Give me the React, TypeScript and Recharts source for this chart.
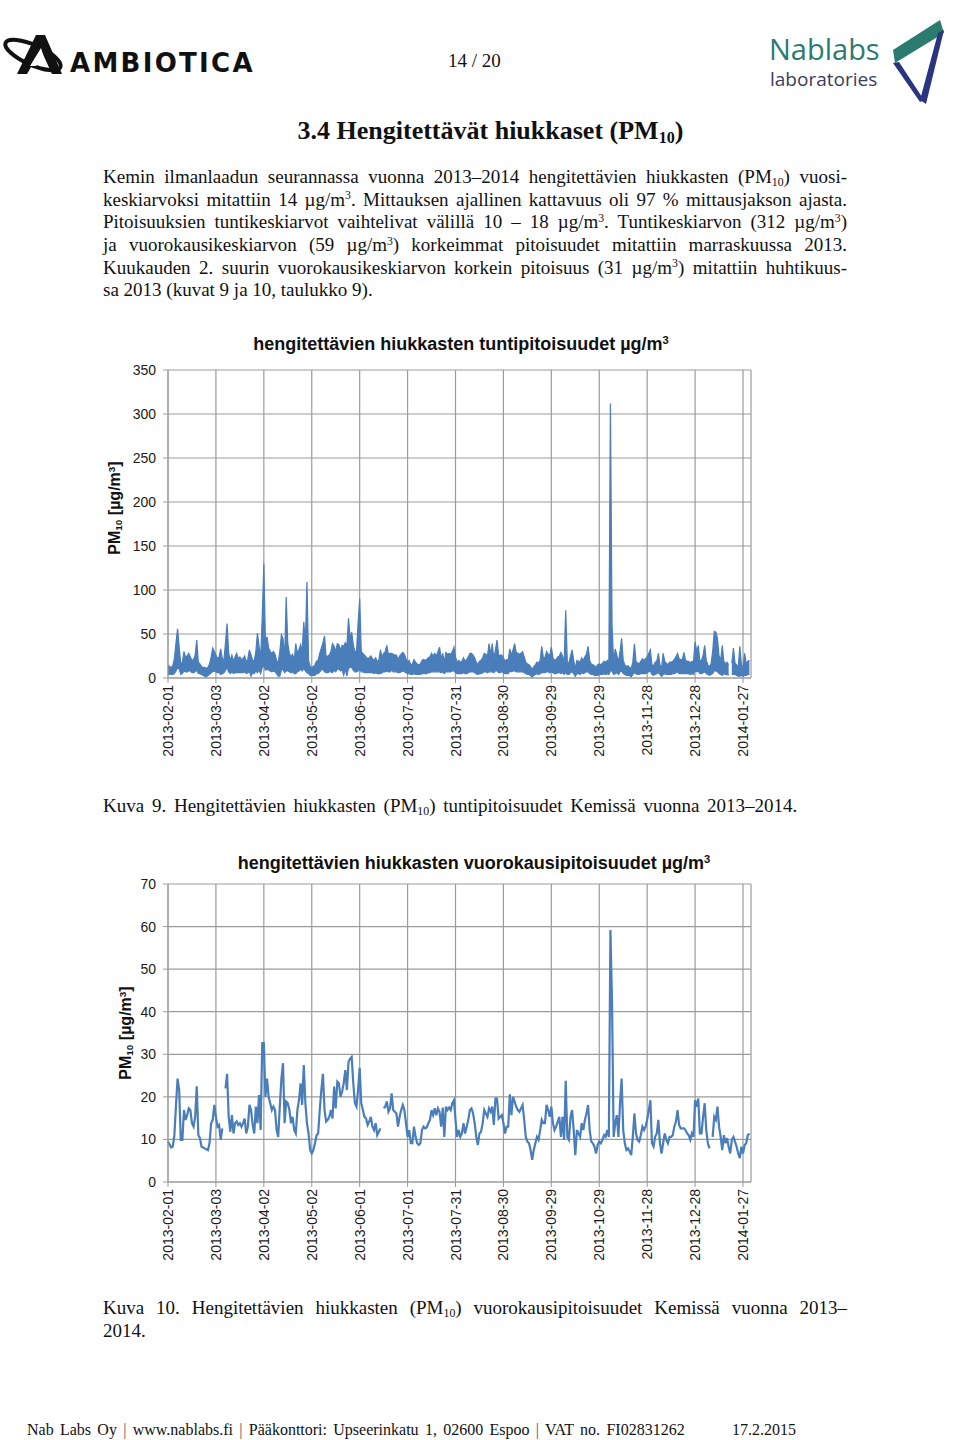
import React from 'react';
import { ComposedChart, LineChart, Area, Line, XAxis, YAxis, CartesianGrid } from 'recharts';

// x axis: day index from 2013-02-01, one tick every 30 days
const tickDays = [0, 30, 60, 90, 120, 150, 180, 210, 240, 270, 300, 330, 360];
const tickLabels = [
    '2013-02-01', '2013-03-03', '2013-04-02', '2013-05-02', '2013-06-01', '2013-07-01', '2013-07-31',
    '2013-08-30', '2013-09-29', '2013-10-29', '2013-11-28', '2013-12-28', '2014-01-27',
];

// daily means (µg/m3), null = missing day
const dailyPM10 = [
    9.5, 8.8, 8.1, 8.3, 11, 18, 24.3, 21.6, 9.9, 9.9,
    16.9, 14.6, 15.7, 17.3, 16.9, 13.8, 13.0, 15.3, 22.5, 11.0,
    10.3, 8.3, 8.1, 7.9, 7.7, 7.5, 9.1, 13.8, 14.6, 18.1,
    15.3, 13.0, 13.4, 9.9, 12.6, null, 22.0, 25.4, 15.3, 11.8,
    15.7, 11.4, 13.8, 14.2, 13.4, 13.8, 13.0, 13.8, 14.9, 11.4,
    13.0, 18.1, 16.9, 13.4, 11.4, 17.7, 13.8, 20.4, 12.2, 32.6,
    32.6, 20.0, 24.3, 20.0, 18.5, 16.9, 17.7, 16.9, 12.2, 10.6,
    17.7, 24.3, 27.9, 13.8, 18.9, 18.5, 16.9, 13.8, 15.3, 12.2,
    11.4, 16.9, 19.2, 23.2, 18.1, 27.5, 18.5, 13.8, 11.4, 7.5,
    6.7, 7.5, 9.1, 11.0, 11.4, 16.9, 21.6, 25.4, 16.9, 14.2,
    14.6, 15.3, 16.9, 14.9, 22.4, 17.3, 23.6, 23.2, 20.0, 21.2,
    23.2, 26.3, 21.6, 28.2, 29.0, 29.4, 23.2, 18.5, 17.7, 21.6,
    26.8, 18.5, 16.9, 15.3, 14.9, 13.4, 14.2, 15.3, 13.0, 12.2,
    13.8, 11.0, 11.8, 12.6, null, 17.3, 17.7, 18.9, 16.5, 17.3,
    20.8, 16.9, 16.5, 16.1, 13.0, 15.3, 16.9, 18.1, 16.9, 13.8,
    10.6, 12.2, 9.1, 9.1, 13.0, 10.6, 9.1, 8.7, 9.1, 12.2,
    13.0, 12.6, 12.8, 13.8, 14.6, 16.9, 15.7, 17.3, 15.7, 17.3,
    16.5, 13.0, 17.5, 10.6, 17.7, 16.9, 17.5, 16.9, 18.5, 19.2,
    14.6, 10.6, 12.2, 10.6, 11.4, 13.8, 11.4, 13.0, 14.6, 16.9,
    17.3, 16.1, 13.8, 10.6, 8.7, 11.4, 11.8, 13.8, 16.9, 16.1,
    15.3, 17.3, 16.5, 17.7, 13.4, 19.6, 19.6, 14.9, 15.3, 15.7,
    13.8, 11.4, 13.0, 13.0, 20.6, 15.7, 20.0, 18.9, 17.7, 16.9,
    16.5, 17.3, 18.1, 14.6, 10.6, 9.5, 9.1, 7.5, 5.2, 7.5,
    9.1, 10.6, 9.9, 12.2, 14.6, 13.8, 13.8, 18.1, 16.9, 15.3,
    17.7, 13.8, 12.2, 13.0, 14.2, 15.3, 10.6, 15.3, 9.9, 23.8,
    10.6, 9.9, 15.3, 16.9, 12.2, 6.3, 12.2, 11.4, 10.6, 13.8,
    12.2, 14.6, 16.1, 18.1, 12.2, 9.5, 9.1, 8.3, 6.7, 8.7,
    9.5, 9.1, 9.9, 11.0, 10.6, 12.2, 10.6, 59.2, 41.9, 10.6,
    13.8, 15.7, 10.6, 18.5, 24.3, 12.2, 9.1, 7.5, 7.9, 7.2,
    6.3, 10.6, 16.1, 11.4, 9.9, 9.5, 11.0, 13.0, 12.2, 13.0,
    14.6, 16.9, 19.2, 9.1, 8.3, 10.6, 11.4, 14.6, 9.1, 6.7,
    9.1, 11.4, 9.9, 9.1, 10.6, 10.6, 11.0, 13.0, 14.2, 16.9,
    13.4, 12.6, 12.6, 12.6, 12.2, 11.4, 11.0, 9.9, 11.4, 10.6,
    19.2, 17.7, 19.6, 11.4, 11.4, 15.3, 18.5, 12.2, 9.1, 7.9,
    null, 10.6, 15.3, 14.6, 17.7, 13.0, 10.6, 7.5, 11.0, 9.1,
    10.3, 8.3, 6.7, 9.9, 10.6, 9.5, 8.3, 6.7, 5.6, 8.3,
    6.7, 8.7, 9.1, 11.0, 11.4,
];

// highest hourly value of each day
const hourlyMax = [
    15, 13, 12, 14, 22, 40, 56, 35, 16, 18,
    30, 24, 25, 28, 24, 20, 21, 26, 43, 18,
    16, 13, 12, 12, 11, 12, 16, 24, 34, 30,
    26, 22, 24, 33, 22, 20, 40, 62, 28, 20,
    26, 19, 24, 28, 22, 24, 21, 22, 25, 18,
    22, 32, 26, 20, 19, 30, 51, 36, 22, 70,
    130, 40, 47, 34, 30, 28, 30, 27, 20, 17,
    30, 49, 45, 22, 92, 39, 28, 24, 27, 20,
    39, 28, 32, 38, 30, 64, 40, 109, 20, 13,
    12, 13, 15, 19, 20, 28, 34, 40, 48, 24,
    25, 26, 30, 39, 36, 30, 39, 38, 32, 37,
    36, 40, 36, 68, 46, 52, 38, 30, 30, 62,
    90, 30, 28, 26, 24, 22, 23, 25, 22, 20,
    23, 19, 20, 32, 24, 28, 30, 37, 27, 28,
    28, 27, 26, 26, 21, 25, 27, 29, 27, 22,
    18, 20, 15, 16, 21, 18, 16, 15, 16, 20,
    21, 20, 21, 23, 24, 28, 25, 28, 25, 30,
    35, 22, 28, 18, 29, 27, 28, 27, 30, 35,
    24, 18, 20, 18, 19, 23, 19, 21, 24, 28,
    28, 26, 23, 18, 15, 19, 20, 23, 28, 27,
    25, 39, 27, 39, 22, 32, 43, 25, 26, 26,
    23, 19, 21, 21, 33, 26, 32, 39, 29, 28,
    27, 28, 30, 24, 18, 16, 15, 13, 9, 13,
    15, 18, 17, 20, 36, 23, 23, 30, 27, 25,
    35, 23, 20, 21, 24, 25, 29, 25, 17, 77,
    18, 17, 25, 32, 20, 11, 20, 19, 18, 23,
    20, 24, 27, 36, 20, 16, 15, 14, 12, 15,
    16, 15, 17, 19, 18, 20, 18, 312, 60, 18,
    33, 26, 18, 30, 45, 20, 15, 13, 14, 12,
    11, 18, 39, 19, 17, 16, 19, 22, 20, 22,
    24, 28, 32, 15, 14, 18, 19, 28, 15, 11,
    28, 19, 17, 15, 18, 18, 19, 21, 24, 28,
    22, 21, 21, 29, 20, 19, 19, 17, 19, 18,
    41, 30, 37, 19, 20, 26, 37, 20, 15, 13,
    16, 30, 53, 52, 45, 25, 20, 37, 19, 16,
    18, 15, null, 17, 34, 17, 15, 12, 36, 15,
    12, 28, 16, 19, 20,
];

// lowest hourly value of each day
const hourlyMin = [
    5, 4, 4, 4, 5, 8, 12, 10, 4, 5,
    8, 7, 7, 8, 8, 6, 6, 7, 9, 5,
    5, 4, 3, 2, 1, 3, 4, 6, 7, 8,
    7, 6, 6, 4, 5, 6, 9, 12, 7, 5,
    7, 5, 6, 6, 6, 6, 6, 6, 7, 5,
    6, 7, 2, 6, 5, 8, 6, 9, 5, 12,
    14, 9, 10, 9, 8, 7, 8, 7, 5, 2,
    2, 9, 10, 6, 8, 8, 7, 6, 7, 5,
    5, 7, 8, 10, 8, 11, 8, 6, 5, 3,
    3, 3, 3, 5, 5, 7, 9, 10, 7, 6,
    6, 7, 7, 6, 9, 7, 10, 10, 8, 9,
    3, 10, 2, 11, 12, 12, 9, 7, 7, 8,
    10, 7, 7, 6, 6, 6, 6, 6, 6, 5,
    6, 5, 5, 5, 6, 7, 7, 8, 7, 7,
    9, 7, 7, 7, 6, 6, 7, 8, 7, 6,
    5, 5, 4, 4, 5, 4, 4, 4, 4, 5,
    5, 5, 5, 6, 6, 7, 7, 7, 7, 7,
    7, 6, 7, 5, 7, 7, 7, 7, 8, 8,
    6, 5, 5, 5, 5, 6, 5, 5, 6, 7,
    7, 7, 6, 5, 4, 5, 5, 6, 7, 7,
    6, 7, 7, 7, 6, 8, 8, 6, 6, 7,
    6, 5, 5, 5, 8, 7, 8, 8, 7, 7,
    7, 7, 7, 6, 5, 4, 4, 3, 1, 3,
    4, 5, 4, 5, 6, 6, 6, 7, 7, 6,
    7, 6, 5, 5, 6, 6, 5, 6, 4, 6,
    4, 4, 6, 7, 5, 2, 5, 5, 4, 6,
    5, 6, 7, 7, 5, 4, 4, 3, 3, 3,
    4, 4, 4, 5, 4, 5, 4, 8, 8, 4,
    5, 6, 4, 7, 8, 5, 4, 3, 3, 3,
    1, 4, 6, 5, 4, 4, 5, 5, 5, 5,
    6, 7, 8, 4, 3, 4, 5, 6, 4, 2,
    4, 5, 4, 4, 4, 4, 5, 5, 6, 7,
    5, 5, 5, 5, 5, 5, 5, 4, 5, 4,
    8, 7, 8, 5, 5, 6, 7, 5, 4, 3,
    4, 5, 8, 8, 7, 5, 4, 3, 5, 4,
    4, 3, null, 4, 4, 4, 3, 2, 2, 3,
    2, 3, 3, 4, 4,
];

const hourlyTicks = [0, 50, 100, 150, 200, 250, 300, 350];
const dailyTicks = [0, 10, 20, 30, 40, 50, 60, 70];

const hourlyRows = hourlyMax.map((hi, d) => ({
    d,
    band: hi == null || hourlyMin[d] == null ? null : [hourlyMin[d], hi],
}));
const dailyRows = dailyPM10.map((v, d) => ({ d, v }));

const BLUE = '#4a7ebb';
const GRID = '#9b9b9b';
const SANS = '"Liberation Sans", Arial, sans-serif';
const SERIF = '"Liberation Serif", "Times New Roman", serif';

const Sup = ({ children }: { children: React.ReactNode }) => (
    <span style={{ fontSize: '0.62em', position: 'relative', top: '-0.55em', lineHeight: 0 }}>{children}</span>
);
const Sub = ({ children }: { children: React.ReactNode }) => (
    <span style={{ fontSize: '0.62em', position: 'relative', top: '0.25em', lineHeight: 0 }}>{children}</span>
);
const JLine = ({ children, last }: { children: React.ReactNode; last?: boolean }) => (
    <div style={{ textAlign: 'justify', textAlignLast: last ? 'left' : 'justify', height: 22.7 }}>{children}</div>
);

const DateTick = (props: any) => {
    const { x, y, payload } = props;
    const i = tickDays.indexOf(payload.value);
    return (
        <text
            x={x}
            y={y}
            dy={5}
            transform={`rotate(-90 ${x} ${y})`}
            textAnchor="end"
            fontSize={14}
            fontFamily={SANS}
            fill="#1a1a1a"
        >
            {tickLabels[i]}
        </text>
    );
};

const xAxisProps = {
    type: 'number' as const,
    dataKey: 'd',
    domain: [0, 365],
    ticks: tickDays,
    interval: 0 as const,
    height: 87,
    tickSize: 5,
    tick: <DateTick />,
    axisLine: { stroke: GRID },
    tickLine: { stroke: GRID },
};

const yTick = { fontSize: 14, fontFamily: SANS, fill: '#1a1a1a' };

const abs = (left: number, top: number, extra: React.CSSProperties = {}): React.CSSProperties => ({
    position: 'absolute',
    left,
    top,
    ...extra,
});

const AxisTitle = ({ x, y }: { x: number; y: number }) => (
    <div
        style={abs(x, y, {
            transform: 'translate(-50%, -50%) rotate(-90deg)',
            whiteSpace: 'nowrap',
            fontFamily: SANS,
            fontWeight: 'bold',
            fontSize: 16,
            color: '#111',
        })}
    >
        PM<Sub>10</Sub> [µg/m<Sup>3</Sup>]
    </div>
);

const ChartTitle = ({ x, y, children }: { x: number; y: number; children: React.ReactNode }) => (
    <div
        style={abs(x, y, {
            transform: 'translate(-50%, -50%)',
            whiteSpace: 'nowrap',
            fontFamily: SANS,
            fontWeight: 'bold',
            fontSize: 18,
            color: '#111',
        })}
    >
        {children}
    </div>
);

const HourlyChart = () => (
    <div style={abs(100, 330)}>
        <ComposedChart width={680} height={440} data={hourlyRows} margin={{ top: 40, right: 29, bottom: 5, left: 0 }}>
            <CartesianGrid stroke={GRID} strokeWidth={1.2} />
            <XAxis {...xAxisProps} />
            <YAxis
                domain={[0, 350]}
                ticks={hourlyTicks}
                width={68}
                tickSize={5}
                tickMargin={7}
                tick={yTick}
                axisLine={{ stroke: GRID }}
                tickLine={{ stroke: GRID }}
            />
            <Area
                dataKey="band"
                type="linear"
                stroke={BLUE}
                strokeWidth={1.2}
                fill={BLUE}
                fillOpacity={1}
                connectNulls={false}
                isAnimationActive={false}
            />
        </ComposedChart>
    </div>
);

const DailyChart = () => (
    <div style={abs(100, 850)}>
        <LineChart width={680} height={420} data={dailyRows} margin={{ top: 34, right: 29, bottom: 1, left: 0 }}>
            <CartesianGrid stroke={GRID} strokeWidth={1.2} />
            <XAxis {...xAxisProps} />
            <YAxis
                domain={[0, 70]}
                ticks={dailyTicks}
                width={68}
                tickSize={5}
                tickMargin={7}
                tick={yTick}
                axisLine={{ stroke: GRID }}
                tickLine={{ stroke: GRID }}
            />
            <Line
                dataKey="v"
                type="linear"
                stroke={BLUE}
                strokeWidth={2.2}
                dot={false}
                connectNulls={false}
                isAnimationActive={false}
            />
        </LineChart>
    </div>
);

const AmbioticaLogo = () => (
    <div style={abs(0, 30)}>
        <svg width={270} height={52}>
            <ellipse cx={33} cy={25} rx={30} ry={10} transform="rotate(24 33 25)" fill="none" stroke="#111" strokeWidth={4} />
            <polygon points="17,44 36,5 45,5 62,44 52,44 41,20 27,44" fill="#111" />
            <polygon points="30,36 41,18 44,28 36,36" fill="#fff" />
            <text x={70} y={42} fontFamily='"DejaVu Sans", sans-serif' fontWeight="bold" fontSize={26} letterSpacing={2.3} fill="#111">
                AMBIOTICA
            </text>
        </svg>
    </div>
);

const NablabsLogo = () => (
    <div style={abs(760, 10)}>
        <svg width={200} height={100}>
            <text x={9} y={50} fontFamily='"Open Sans", sans-serif' fontSize={29} fill="#2b7b6e">
                Nablabs
            </text>
            <text x={10} y={76} fontFamily='"Open Sans", sans-serif' fontSize={19} fill="#3a3d5c">
                laboratories
            </text>
            <polygon points="133,40 180,10 184,23 135,53" fill="#2b7b6e" />
            <polygon points="178,23 184,20 166,94 160,90" fill="#2a3480" />
            <polygon points="133,53 139,52 164,90 160,92" fill="#2a3480" />
        </svg>
    </div>
);

export default function App() {
    return (
        <div style={{ position: 'absolute', left: 0, top: 0, width: 960, height: 1440, background: '#fff', fontFamily: SERIF, color: '#111' }}>
            <AmbioticaLogo />
            <div style={abs(448, 50, { fontSize: 19 })}>14 / 20</div>
            <NablabsLogo />

            <div style={abs(0, 115, { width: 981, textAlign: 'center', fontSize: 26, fontWeight: 'bold', lineHeight: '32px' })}>
                3.4 Hengitettävät hiukkaset (PM<Sub>10</Sub>)
            </div>

            <div style={abs(103, 166, { width: 744, fontSize: 19, lineHeight: '22.7px' })}>
                <JLine>Kemin ilmanlaadun seurannassa vuonna 2013–2014 hengitettävien hiukkasten (PM<Sub>10</Sub>) vuosi-</JLine>
                <JLine>keskiarvoksi mitattiin 14 µg/m<Sup>3</Sup>. Mittauksen ajallinen kattavuus oli 97 % mittausjakson ajasta.</JLine>
                <JLine>Pitoisuuksien tuntikeskiarvot vaihtelivat välillä 10 – 18 µg/m<Sup>3</Sup>. Tuntikeskiarvon (312 µg/m<Sup>3</Sup>)</JLine>
                <JLine>ja vuorokausikeskiarvon (59 µg/m<Sup>3</Sup>) korkeimmat pitoisuudet mitattiin marraskuussa 2013.</JLine>
                <JLine>Kuukauden 2. suurin vuorokausikeskiarvon korkein pitoisuus (31 µg/m<Sup>3</Sup>) mitattiin huhtikuus-</JLine>
                <JLine last>sa 2013 (kuvat 9 ja 10, taulukko 9).</JLine>
            </div>

            <ChartTitle x={461} y={344}>
                hengitettävien hiukkasten tuntipitoisuudet µg/m<Sup>3</Sup>
            </ChartTitle>
            <AxisTitle x={115} y={508} />
            <HourlyChart />

            <div style={abs(103, 795, { fontSize: 19, lineHeight: '22.7px', wordSpacing: 3, whiteSpace: 'nowrap' })}>
                Kuva 9. Hengitettävien hiukkasten (PM<Sub>10</Sub>) tuntipitoisuudet Kemissä vuonna 2013–2014.
            </div>

            <ChartTitle x={474} y={863}>
                hengitettävien hiukkasten vuorokausipitoisuudet µg/m<Sup>3</Sup>
            </ChartTitle>
            <AxisTitle x={126} y={1033} />
            <DailyChart />

            <div style={abs(103, 1297, { width: 744, fontSize: 19, lineHeight: '22.7px' })}>
                <JLine>Kuva 10. Hengitettävien hiukkasten (PM<Sub>10</Sub>) vuorokausipitoisuudet Kemissä vuonna 2013–</JLine>
                <JLine last>2014.</JLine>
            </div>

            <div style={abs(27, 1420, { fontSize: 16, whiteSpace: 'nowrap', lineHeight: '20px', wordSpacing: 2.3 })}>
                Nab Labs Oy <span style={{ color: '#555' }}>|</span> www.nablabs.fi <span style={{ color: '#555' }}>|</span> Pääkonttori: Upseerinkatu 1, 02600 Espoo{' '}
                <span style={{ color: '#555' }}>|</span> VAT no. FI02831262
            </div>
            <div style={abs(732, 1420, { fontSize: 16, lineHeight: '20px' })}>17.2.2015</div>
        </div>
    );
}
